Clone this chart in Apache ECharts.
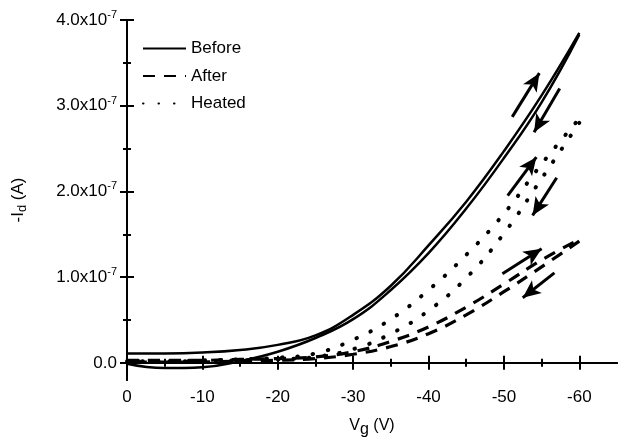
<!DOCTYPE html>
<html lang="en">
<head>
<meta charset="UTF-8">
<title>Id-Vg hysteresis</title>
<script src="https://cdn.jsdelivr.net/npm/echarts@6/dist/echarts.min.js"></script>
<style>
  html, body, #main { width: 100%; height: 100%; margin: 0; padding: 0; overflow: hidden; background: #fff; }
</style>
</head>
<body>
<div id="main"></div>
<script>
// gate voltage sweep (V): forward 0 -> -60, backward -60 -> 0
var vgFwd = [0, -5, -10, -15, -20, -25, -30, -35, -40, -45, -50, -55, -60];
var vgBwd = [-60, -55, -50, -45, -40, -35, -30, -25, -20, -15, -10, -5, 0];

// -Id in units of 1e-7 A
var beforeFwd = [0.11, 0.11, 0.12, 0.15, 0.21, 0.32, 0.56, 0.90, 1.37, 1.88, 2.47, 3.12, 3.85];
var beforeBwd = [3.83, 3.04, 2.39, 1.80, 1.28, 0.85, 0.51, 0.29, 0.13, 0.02, -0.05, -0.06, -0.01];
var afterFwd = [0.03, 0.03, 0.03, 0.04, 0.05, 0.07, 0.13, 0.25, 0.42, 0.65, 0.92, 1.20, 1.44];
var afterBwd = [1.42, 1.12, 0.83, 0.56, 0.34, 0.19, 0.10, 0.05, 0.03, 0.02, 0.01, 0.01, 0.01];
var heatedFwd = [0.02, 0.02, 0.03, 0.04, 0.06, 0.11, 0.27, 0.51, 0.85, 1.26, 1.74, 2.32, 2.85];
var heatedBwd = [2.80, 2.15, 1.51, 0.99, 0.61, 0.34, 0.16, 0.07, 0.04, 0.03, 0.02, 0.02, 0.02];

// sweep direction arrows [from, to] in (V, 1e-7 A)
var beforeArrows = [[[-51.1, 2.87], [-54.7, 3.38]], [[-57.4, 3.20], [-54.0, 2.69]]];
var afterArrows = [[[-49.8, 1.04], [-55.0, 1.33]], [[-56.7, 1.05], [-52.5, 0.76]]];
var heatedArrows = [[[-50.5, 1.95], [-54.3, 2.40]], [[-57.0, 2.16], [-53.8, 1.72]]];

var xMajor = [0, -10, -20, -30, -40, -50, -60];
var xMinor = [-5, -15, -25, -35, -45, -55];
var yMajor = [0, 1, 2, 3, 4];
var yMinor = [0.5, 1.5, 2.5, 3.5];

var FONT = "'Liberation Sans', Arial, sans-serif";

function pairs(xs, ys) {
  var out = [];
  for (var i = 0; i < xs.length; i++) out.push([xs[i], ys[i]]);
  return out;
}

function arrowLines(list) {
  return list.map(function (a) {
    return [{ coord: a[0] }, { coord: a[1] }];
  });
}

function mkSeries(name, xs, ys, lineStyle, arrows) {
  var s = {
    name: name,
    type: 'line',
    smooth: 0.45,
    symbol: 'none',
    lineStyle: lineStyle,
    itemStyle: { color: '#000' },
    data: pairs(xs, ys),
    z: 3
  };
  if (arrows) {
    s.markLine = {
      silent: true,
      symbol: ['none', 'arrow'],
      symbolSize: [12, 18],
      label: { show: false },
      lineStyle: { color: '#000', width: 3, type: 'solid' },
      data: arrowLines(arrows)
    };
  }
  return s;
}

var solid = { color: '#000', width: 2.5, type: 'solid' };
var dashed = { color: '#000', width: 3.2, type: [12, 9] };
var dotted = { color: '#000', width: 4, type: [0.5, 15], cap: 'round' };

function xAx(pos, ticks, len, withLine, withLabel) {
  return {
    type: 'value', min: -65, max: 0, inverse: true, position: pos,
    axisLine: { show: withLine, lineStyle: { color: '#000', width: 2 } },
    axisTick: { show: true, inside: true, length: len, customValues: ticks, lineStyle: { color: '#000', width: 2 } },
    axisLabel: withLabel ? {
      show: true, customValues: ticks, margin: 9, color: '#000', fontSize: 17, fontFamily: FONT,
      formatter: function (v) { return v === 0 ? '0' : String(v); }
    } : { show: false },
    splitLine: { show: false }
  };
}

function yAx(pos, ticks, len, withLine, withLabel) {
  return {
    type: 'value', min: -0.2, max: 4, position: pos,
    axisLine: { show: withLine, lineStyle: { color: '#000', width: 2 } },
    axisTick: { show: true, inside: true, length: len, customValues: ticks, lineStyle: { color: '#000', width: 2 } },
    axisLabel: withLabel ? {
      show: true, customValues: ticks, margin: 10, color: '#000', fontSize: 17, fontFamily: FONT,
      formatter: function (v) { return v === 0 ? '0.0' : v.toFixed(1) + 'x10{sup|-7}'; },
      rich: { sup: { fontSize: 11, fontFamily: FONT, color: '#000', padding: [0, 0, 10, 0] } }
    } : { show: false },
    splitLine: { show: false }
  };
}

var xAxes = [
  xAx('bottom', xMajor, 7, true, true),
  xAx('bottom', xMinor, 4, false, false),
  xAx('top', xMajor, 7, true, false),
  xAx('top', xMinor, 4, false, false)
];
xAxes[0].name = 'V{sub|g} (V)';
xAxes[0].nameLocation = 'middle';
xAxes[0].nameGap = 34;
xAxes[0].nameTextStyle = {
  color: '#000', fontSize: 16, fontFamily: FONT,
  rich: { sub: { fontSize: 16, fontFamily: FONT, color: '#000', padding: [8, 0, 0, 0] } }
};

var yAxes = [
  yAx('left', yMajor, 7, true, true),
  yAx('left', yMinor, 4, false, false),
  yAx('right', yMajor, 7, true, false),
  yAx('right', yMinor, 4, false, false)
];
yAxes[0].name = '-I{sub|d} (A)';
yAxes[0].nameLocation = 'middle';
yAxes[0].nameGap = 98;
yAxes[0].nameTextStyle = {
  color: '#000', fontSize: 17, fontFamily: FONT,
  rich: { sub: { fontSize: 13, fontFamily: FONT, color: '#000', padding: [8, 0, 0, 0] } }
};

var chart = echarts.init(document.getElementById('main'), null, { renderer: 'canvas' });
chart.setOption({
  animation: false,
  backgroundColor: '#fff',
  grid: { left: 127, right: 1, top: 20, bottom: 68 },
  legend: {
    orient: 'vertical', left: 142, top: 40, padding: 0,
    itemWidth: 43, itemHeight: 14, itemGap: 10.5,
    itemStyle: { opacity: 0 },
    textStyle: { color: '#000', fontSize: 17, fontFamily: FONT },
    data: ['Before', 'After', 'Heated']
  },
  xAxis: xAxes,
  yAxis: yAxes,
  series: [
    mkSeries('Before', vgFwd, beforeFwd, solid, beforeArrows),
    mkSeries('Before', vgBwd, beforeBwd, solid),
    mkSeries('After', vgFwd, afterFwd, dashed, afterArrows),
    mkSeries('After', vgBwd, afterBwd, dashed),
    mkSeries('Heated', vgFwd, heatedFwd, dotted, heatedArrows),
    mkSeries('Heated', vgBwd, heatedBwd, dotted)
  ]
});
</script>
</body>
</html>
